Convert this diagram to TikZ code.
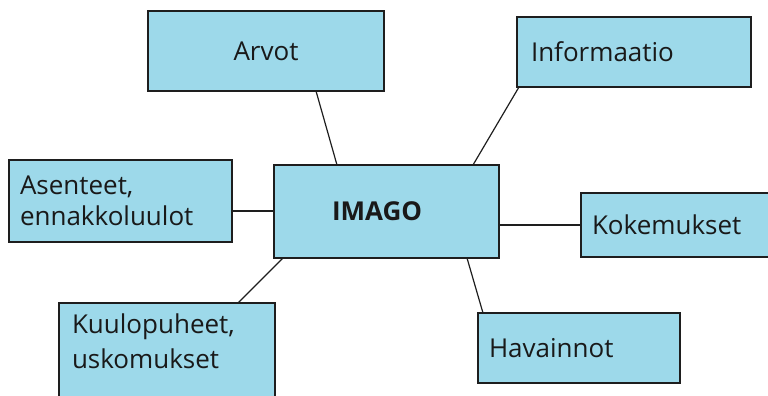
\documentclass[tikz,border=0pt]{standalone}
\usepackage{fontspec}
\setmainfont{Open Sans}
\definecolor{boxfill}{RGB}{157,217,234}
\definecolor{boxline}{RGB}{30,30,30}
\definecolor{txt}{RGB}{25,25,25}
\begin{document}
\begin{tikzpicture}[x=1pt,y=-1pt,
  box/.style={draw=boxline,fill=boxfill,line width=2pt,rectangle,outer sep=0pt,
    font=\fontsize{26}{31}\selectfont,text=txt,align=left},
  conn/.style={draw=boxline,line width=1.2pt}]
\useasboundingbox (0,0) rectangle (768,396);
% boxes
\node[box,anchor=north west,minimum width=236pt,minimum height=80pt,inner xsep=0pt,text width=236pt,align=center] (arvot) at (148,11) {Arvot};
\node[box,anchor=north west,minimum width=234pt,minimum height=70pt,inner xsep=14pt,text width=206pt] (info) at (517,17) {Informaatio};
\node[box,anchor=north west,minimum width=223pt,minimum height=82pt,inner xsep=11pt,text width=201pt] (asen) at (9,160) {Asenteet,\\ennakkoluulot};
\node[box,anchor=north west,minimum width=225pt,minimum height=93pt,inner xsep=58pt,text width=109pt,font=\fontsize{26}{31}\selectfont\bfseries] (imago) at (274,165) {IMAGO};
\node[box,anchor=north west,minimum width=199pt,minimum height=64pt,inner xsep=11pt,text width=177pt] (koke) at (581,193) {Kokemukset};
\node[box,anchor=north west,inner xsep=13pt,inner ysep=11pt,text width=190pt,text depth=60pt] (kuu) at (59,303) {Kuulopuheet,\\[4pt]uskomukset};
\node[box,anchor=north west,minimum width=202pt,minimum height=70pt,inner xsep=11pt,text width=180pt] (hav) at (478,313) {Havainnot};
% connectors
\draw[conn] ([xshift=168pt]arvot.south west) -- ([xshift=63pt]imago.north west);
\draw[conn] ([xshift=2pt]info.south west) -- ([xshift=199pt]imago.north west);
\draw[conn] ([yshift=-10pt]asen.east) -- ([yshift=-10pt]asen.east -| imago.west);
\draw[conn] (imago.east |- koke.west) -- (koke.west);
\draw[conn] ([xshift=179pt]kuu.north west) -- ([xshift=9pt]imago.south west);
\draw[conn] ([xshift=193pt]imago.south west) -- ([xshift=5pt]hav.north west);
\end{tikzpicture}
\end{document}
